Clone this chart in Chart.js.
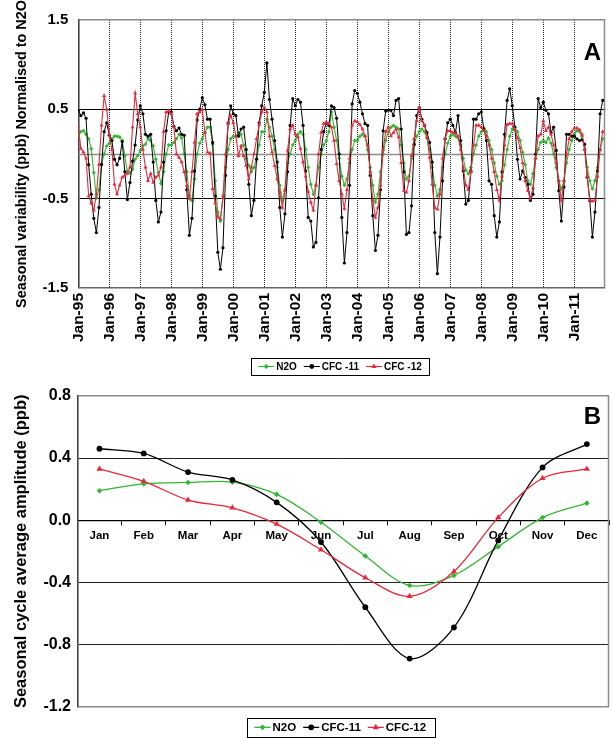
<!DOCTYPE html>
<html><head><meta charset="utf-8">
<script src="https://cdn.jsdelivr.net/npm/chart.js@4.4.1/dist/chart.umd.min.js"></script>
<style>
html,body{margin:0;padding:0;background:#fff;}
#wrap{position:relative;width:613px;height:738px;overflow:hidden;background:#fff;}
canvas{position:absolute;left:0;}
#cA{top:0;width:613px;height:380px;}
#cB{top:380px;width:613px;height:358px;}
</style></head><body>
<div id="wrap"><canvas id="cA" width="613" height="380"></canvas><canvas id="cB" width="613" height="358"></canvas></div>
<script>
// ---------- Panel A data (monthly, Jan-95 .. Dec-11) ----------
const yearLabels = ['Jan-95','Jan-96','Jan-97','Jan-98','Jan-99','Jan-00','Jan-01','Jan-02','Jan-03','Jan-04','Jan-05','Jan-06','Jan-07','Jan-08','Jan-09','Jan-10','Jan-11'];
const yTicksA = [-1.5, -0.5, 0.5, 1.5];

const n2oMonthly = [
 0.20, 0.25, 0.26, 0.22, 0.17, 0.06, -0.21, -0.49, -0.40, -0.11, 0.00, 0.09,
 0.12, 0.17, 0.20, 0.20, 0.19, 0.15, -0.02, -0.19, -0.21, -0.17, -0.06, -0.02,
 0.04, 0.09, 0.11, 0.17, 0.15, 0.09, -0.06, -0.21, -0.33, -0.20, 0.00, 0.10,
 0.10, 0.13, 0.17, 0.22, 0.18, 0.00, -0.20, -0.47, -0.52, -0.28, 0.00, 0.12,
 0.17, 0.24, 0.30, 0.30, 0.11, -0.30, -0.65, -0.75, -0.47, -0.15, 0.05, 0.17,
 0.20, 0.20, 0.24, 0.22, 0.10, -0.05, -0.13, -0.20, -0.15, -0.05, 0.10, 0.25,
 0.25, 0.39, 0.30, 0.20, 0.05, -0.15, -0.35, -0.52, -0.40, -0.10, 0.00, 0.10,
 0.15, 0.22, 0.25, 0.22, 0.05, -0.15, -0.34, -0.45, -0.35, -0.15, 0.00, 0.10,
 0.15, 0.25, 0.47, 0.30, 0.15, -0.05, -0.25, -0.35, -0.28, -0.10, 0.05, 0.15,
 0.15, 0.20, 0.22, 0.20, 0.05, -0.15, -0.35, -0.54, -0.45, -0.20, 0.00, 0.15,
 0.25, 0.30, 0.32, 0.30, 0.28, 0.10, -0.10, -0.28, -0.25, -0.05, 0.10, 0.20,
 0.25, 0.28, 0.25, 0.18, 0.05, -0.15, -0.35, -0.47, -0.40, -0.15, 0.00, 0.12,
 0.20, 0.22, 0.20, 0.18, 0.10, -0.05, -0.18, -0.22, -0.15, 0.00, 0.10, 0.20,
 0.25, 0.29, 0.25, 0.15, 0.05, -0.10, -0.25, -0.34, -0.30, -0.12, 0.05, 0.20,
 0.28, 0.27, 0.25, 0.15, 0.02, -0.12, -0.30, -0.34, -0.22, -0.05, 0.05, 0.13,
 0.15, 0.13, 0.18, 0.12, 0.00, -0.15, -0.30, -0.39, -0.30, -0.10, 0.05, 0.15,
 0.22, 0.26, 0.25, 0.20, 0.05, -0.15, -0.30, -0.39, -0.30, -0.15, 0.05, 0.17
];
const cfc11Monthly = [
 0.49, 0.43, 0.46, 0.40, -0.12, -0.45, -0.72, -0.88, -0.60, -0.12, 0.25, 0.35,
 0.21, 0.15, -0.06, -0.12, -0.05, 0.14, -0.20, -0.51, -0.32, -0.08, 0.10, 0.38,
 0.54, 0.45, 0.22, 0.20, 0.22, -0.09, -0.52, -0.76, -0.65, -0.09, 0.26, 0.47,
 0.47, 0.31, 0.26, 0.29, 0.22, 0.21, -0.40, -0.91, -0.72, -0.19, 0.38, 0.50,
 0.63, 0.55, 0.39, 0.39, 0.13, -0.47, -1.10, -1.29, -1.05, -0.24, 0.35, 0.54,
 0.45, 0.43, 0.20, 0.28, 0.30, 0.05, -0.34, -0.69, -0.52, -0.06, 0.35, 0.54,
 0.69, 1.02, 0.61, 0.39, 0.15, -0.09, -0.60, -0.93, -0.67, -0.20, 0.32, 0.62,
 0.54, 0.61, 0.58, 0.32, -0.19, -0.71, -0.75, -1.04, -0.99, -0.49, 0.05, 0.25,
 0.35, 0.32, 0.54, 0.52, 0.40, 0.00, -0.71, -1.22, -0.88, -0.35, 0.56, 0.71,
 0.68, 0.58, 0.45, 0.34, 0.32, -0.24, -0.69, -1.08, -0.91, -0.40, 0.26, 0.48,
 0.49, 0.49, 0.43, 0.60, 0.62, 0.28, -0.20, -0.90, -0.88, -0.58, 0.11, 0.43,
 0.52, 0.39, 0.32, 0.24, 0.13, -0.09, -0.88, -1.34, -0.93, -0.30, 0.17, 0.35,
 0.39, 0.32, 0.24, 0.43, 0.15, -0.19, -0.56, -0.52, -0.19, 0.39, 0.39, 0.45,
 0.47, 0.28, 0.15, -0.30, -0.34, -0.69, -0.93, -0.76, -0.20, 0.22, 0.60, 0.73,
 0.54, 0.30, -0.06, -0.28, -0.19, -0.26, -0.34, -0.52, -0.45, 0.00, 0.62, 0.52,
 0.58, 0.49, 0.45, 0.24, 0.30, 0.04, -0.41, -0.75, -0.37, 0.22, 0.22, 0.20,
 0.20, 0.17, 0.15, 0.16, 0.11, -0.26, -0.52, -0.93, -0.65, -0.19, 0.45, 0.60
];
const cfc12Monthly = [
 0.31, 0.06, 0.02, -0.05, -0.47, -0.55, -0.63, -0.45, -0.12, 0.32, 0.65, 0.50,
 0.22, 0.05, -0.34, -0.45, -0.35, -0.26, -0.24, -0.22, -0.15, 0.30, 0.68, 0.45,
 0.30, 0.05, -0.15, -0.30, -0.22, -0.32, -0.26, -0.24, -0.15, 0.25, 0.47, 0.48,
 0.45, 0.30, 0.00, -0.04, -0.09, -0.20, -0.35, -0.50, -0.20, 0.13, 0.45, 0.47,
 0.50, 0.24, 0.02, 0.01, -0.39, -0.55, -0.71, -0.73, -0.49, 0.00, 0.34, 0.43,
 0.35, 0.20, -0.02, 0.09, -0.02, -0.13, -0.28, -0.15, 0.00, 0.17, 0.33, 0.47,
 0.52, 0.47, 0.20, 0.02, -0.13, -0.28, -0.43, -0.60, -0.41, 0.04, 0.28, 0.32,
 0.22, 0.19, 0.06, -0.09, -0.25, -0.42, -0.54, -0.63, -0.35, 0.00, 0.24, 0.34,
 0.35, 0.34, 0.30, 0.15, -0.11, -0.30, -0.45, -0.61, -0.40, -0.05, 0.32, 0.37,
 0.36, 0.33, 0.28, 0.20, 0.10, -0.20, -0.52, -0.71, -0.60, -0.35, 0.05, 0.25,
 0.30, 0.20, 0.24, 0.28, 0.19, -0.10, -0.41, -0.43, -0.30, -0.02, 0.17, 0.37,
 0.52, 0.37, 0.32, 0.19, -0.04, -0.34, -0.60, -0.62, -0.45, -0.05, 0.17, 0.26,
 0.26, 0.24, 0.23, 0.20, 0.05, -0.15, -0.35, -0.40, -0.20, 0.10, 0.32, 0.32,
 0.30, 0.26, 0.20, 0.10, -0.05, -0.20, -0.40, -0.52, -0.25, 0.10, 0.33, 0.34,
 0.34, 0.28, 0.18, 0.07, -0.10, -0.30, -0.41, -0.50, -0.38, -0.05, 0.20, 0.22,
 0.37, 0.26, 0.30, 0.22, 0.10, -0.10, -0.30, -0.52, -0.30, 0.00, 0.17, 0.25,
 0.29, 0.29, 0.27, 0.22, 0.05, -0.25, -0.52, -0.53, -0.52, -0.25, 0.05, 0.25
];

// ---------- Panel B data (average seasonal cycle) ----------
const months = ['Jan','Feb','Mar','Apr','May','Jun','Jul','Aug','Sep','Oct','Nov','Dec'];
const yTicksB = [-1.2, -0.8, -0.4, 0.0, 0.4, 0.8];
const n2oAvg   = [0.19, 0.234, 0.243, 0.245, 0.166, -0.013, -0.23, -0.42, -0.355, -0.17, 0.017, 0.11];
const cfc11Avg = [0.46, 0.43, 0.31, 0.26, 0.115, -0.14, -0.56, -0.89, -0.69, -0.13, 0.34, 0.49];
const cfc12Avg = [0.33, 0.25, 0.13, 0.08, -0.025, -0.19, -0.37, -0.49, -0.33, 0.017, 0.27, 0.33];

// ---------- styling ----------
const FONT = "'Liberation Sans', Arial, Helvetica, sans-serif";
const GREEN = '#35b535', BLACK = '#000000', RED = '#e8283a';

function drawMarker(ctx, style, x, y, r, color) {
  ctx.beginPath();
  if (style === 'circle') ctx.arc(x, y, r, 0, Math.PI * 2);
  else if (style === 'triangle') { ctx.moveTo(x, y - r); ctx.lineTo(x + r * 0.866, y + r * 0.5); ctx.lineTo(x - r * 0.866, y + r * 0.5); ctx.closePath(); }
  else { ctx.moveTo(x, y - r); ctx.lineTo(x + r, y); ctx.lineTo(x, y + r); ctx.lineTo(x - r, y); ctx.closePath(); }
  ctx.fillStyle = color; ctx.fill();
}

const boxLegend = {
  id: 'boxLegend',
  afterDraw(chart, args, o) {
    const ctx = chart.ctx; ctx.save();
    ctx.font = o.font;
    const items = chart.data.datasets.map(ds => ({ds, w: ctx.measureText(ds.label).width}));
    const total = o.pad * 2 + items.reduce((s, it) => s + o.lineLen + o.textGap + it.w, 0) + o.gap * (items.length - 1);
    let x = o.cx - total / 2;
    const cy = o.top + o.height / 2;
    ctx.strokeStyle = '#000'; ctx.lineWidth = 1;
    ctx.strokeRect(Math.round(x) + 0.5, Math.round(o.top) + 0.5, Math.round(total), Math.round(o.height));
    x += o.pad;
    ctx.textBaseline = 'middle'; ctx.textAlign = 'left';
    items.forEach(it => {
      const c = it.ds.borderColor;
      ctx.strokeStyle = c; ctx.lineWidth = o.lineWidth;
      ctx.beginPath(); ctx.moveTo(x, cy); ctx.lineTo(x + o.lineLen, cy); ctx.stroke();
      drawMarker(ctx, it.ds.pointStyle, x + o.lineLen / 2, cy, o.markerR[it.ds.pointStyle], c);
      ctx.fillStyle = '#000';
      ctx.fillText(it.ds.label, x + o.lineLen + o.textGap, cy + 0.5);
      x += o.lineLen + o.textGap + it.w + o.gap;
    });
    ctx.restore();
  }
};

const framePlugin = {
  id: 'frame',
  beforeDatasetsDraw(chart, args, o) {
    const {ctx, chartArea: a} = chart;
    ctx.save();
    ctx.strokeStyle = o.rightColor; ctx.lineWidth = o.rightWidth;
    const xr = Math.round(a.right) - 0.5;
    ctx.beginPath(); ctx.moveTo(xr, a.top); ctx.lineTo(xr, a.bottom); ctx.stroke();
    if (o.zeroLine) {
      const y0 = Math.round(chart.scales.y.getPixelForValue(0)) + 0.5;
      ctx.strokeStyle = o.zeroColor; ctx.lineWidth = o.zeroWidth;
      ctx.beginPath(); ctx.moveTo(a.left, y0); ctx.lineTo(a.right, y0); ctx.stroke();
    }
    ctx.restore();
  }
};

const panelLabel = {
  id: 'panelLabel',
  afterDraw(chart, args, o) {
    const ctx = chart.ctx; ctx.save();
    ctx.font = 'bold 24px ' + FONT; ctx.fillStyle = '#000';
    ctx.textAlign = 'right'; ctx.textBaseline = 'alphabetic';
    ctx.fillText(o.text, o.x, o.y);
    ctx.restore();
  }
};

// ---------- Panel A ----------
const toXY = arr => arr.map((v, i) => ({x: i, y: v}));
new Chart(document.getElementById('cA'), {
  type: 'line',
  data: {
    datasets: [
      {label: 'N2O', data: toXY(n2oMonthly), borderColor: GREEN, backgroundColor: GREEN, pointStyle: 'rectRot', pointRadius: 2.0, pointBorderWidth: 0, borderWidth: 1.1, tension: 0, order: 2},
      {label: 'CFC -11', data: toXY(cfc11Monthly), borderColor: BLACK, backgroundColor: BLACK, pointStyle: 'circle', pointRadius: 1.6, pointBorderWidth: 0, borderWidth: 1, tension: 0, order: 1},
      {label: 'CFC -12', data: toXY(cfc12Monthly), borderColor: RED, backgroundColor: RED, pointStyle: 'triangle', pointRadius: 2.3, pointBorderWidth: 0, borderWidth: 1.1, tension: 0, order: 0}
    ]
  },
  options: {
    responsive: false, animation: false, events: [],
    layout: {padding: {left: 0, right: 7.7, top: 20, bottom: 32}},
    plugins: {
      legend: {display: false}, tooltip: {enabled: false},
      boxLegend: {font: 'bold 10px ' + FONT, cx: 340, top: 358, height: 17, pad: 7, gap: 7, lineLen: 16, textGap: 2, lineWidth: 1.1, markerR: {circle: 2.4, triangle: 3, rectRot: 2.6}},
      frame: {rightColor: '#8c8c8c', rightWidth: 1.5, zeroLine: true, zeroColor: '#8c8c8c', zeroWidth: 1.6},
      panelLabel: {text: 'A', x: 601, y: 60}
    },
    scales: {
      x: {
        type: 'linear', min: 0, max: 204,
        afterBuildTicks: s => { s.ticks = yearLabels.map((_, i) => ({value: i * 12})); },
        afterFit: s => { s.height = 60; s.paddingLeft = 0; s.paddingRight = 0; },
        ticks: {autoSkip: false, maxRotation: 90, minRotation: 90, padding: 5, color: '#000',
          font: {family: FONT, weight: 'bold', size: 15.5},
          callback: v => yearLabels[Math.round(v / 12)] || ''},
        grid: {drawTicks: false, lineWidth: 1, borderDash: [1, 1],
          color: c => (c.tick && c.tick.value === 0) ? 'rgba(0,0,0,0)' : '#222'},
        border: {display: false, dash: [1, 1]}
      },
      y: {
        min: -1.5, max: 1.5,
        afterBuildTicks: s => { s.ticks = yTicksA.map(v => ({value: v})); },
        afterFit: s => { s.width = 78.3; },
        ticks: {padding: 10, color: '#000', font: {family: FONT, weight: 'bold', size: 15}, callback: v => v.toFixed(1)},
        grid: {drawTicks: false, lineWidth: c => (c.tick && Math.abs(c.tick.value) === 1.5) ? 1.5 : 1,
          color: c => (c.tick && c.tick.value === 1.5) ? '#8c8c8c' : (c.tick && c.tick.value === -1.5 ? '#666' : '#000')},
        border: {display: true, color: '#444', width: 1.6},
        title: {display: true, text: 'Seasonal variability (ppb) Normalised to N2O', color: '#000',
          font: {family: FONT, weight: 'bold', size: 14.4}, padding: {top: 13, bottom: 0}}
      }
    }
  },
  plugins: [framePlugin, boxLegend, panelLabel]
});

// ---------- Panel B ----------
new Chart(document.getElementById('cB'), {
  type: 'line',
  data: {
    labels: months,
    datasets: [
      {label: 'N2O', data: n2oAvg, borderColor: GREEN, backgroundColor: GREEN, pointStyle: 'rectRot', pointRadius: 2.8, pointBorderWidth: 0, borderWidth: 1.3, tension: 0.33, order: 2},
      {label: 'CFC-11', data: cfc11Avg, borderColor: BLACK, backgroundColor: BLACK, pointStyle: 'circle', pointRadius: 2.9, pointBorderWidth: 0, borderWidth: 1.3, tension: 0.33, order: 1},
      {label: 'CFC-12', data: cfc12Avg, borderColor: RED, backgroundColor: RED, pointStyle: 'triangle', pointRadius: 3.5, pointBorderWidth: 0, borderWidth: 1.3, tension: 0.33, order: 0}
    ]
  },
  options: {
    responsive: false, animation: false, events: [],
    layout: {padding: {left: 0, right: 3.7, top: 14, bottom: 31.3}},
    plugins: {
      legend: {display: false}, tooltip: {enabled: false},
      boxLegend: {font: 'bold 11.5px ' + FONT, cx: 340.3, top: 338, height: 18.7, pad: 8, gap: 7, lineLen: 16, textGap: 2, lineWidth: 1.3, markerR: {circle: 2.9, triangle: 3.6, rectRot: 2.9}},
      frame: {rightColor: '#8c8c8c', rightWidth: 1.5, zeroLine: false},
      panelLabel: {text: 'B', x: 601, y: 43.5}
    },
    scales: {
      x: {
        type: 'category', offset: true, position: {y: 0},
        afterFit: s => { s.height = 0; s.paddingLeft = 0; s.paddingRight = 0; },
        ticks: {autoSkip: false, maxRotation: 0, minRotation: 0, padding: 5, color: '#000', font: {family: FONT, weight: 'bold', size: 11.5}},
        grid: {offset: true, drawOnChartArea: false, drawTicks: true, tickLength: 4, color: '#000', lineWidth: 1},
        border: {display: true, color: '#000', width: 1.3}
      },
      y: {
        min: -1.2, max: 0.8,
        afterBuildTicks: s => { s.ticks = yTicksB.map(v => ({value: v})); },
        afterFit: s => { s.width = 77.3; },
        ticks: {padding: 6.3, color: '#000', font: {family: FONT, weight: 'bold', size: 16}, callback: v => v.toFixed(1)},
        grid: {drawTicks: false,
          lineWidth: c => (c.tick && (c.tick.value === 0.8 || c.tick.value === -1.2)) ? 1.6 : 1,
          color: c => (c.tick && (c.tick.value === 0.8 || c.tick.value === -1.2)) ? '#8c8c8c' : '#222'},
        border: {display: true, color: '#444', width: 1.6},
        title: {display: true, text: 'Seasonal cycle average amplitude (ppb)', color: '#000',
          font: {family: FONT, weight: 'bold', size: 16.5}, padding: {top: 12, bottom: 0}}
      }
    }
  },
  plugins: [framePlugin, boxLegend, panelLabel]
});
</script></body></html>
